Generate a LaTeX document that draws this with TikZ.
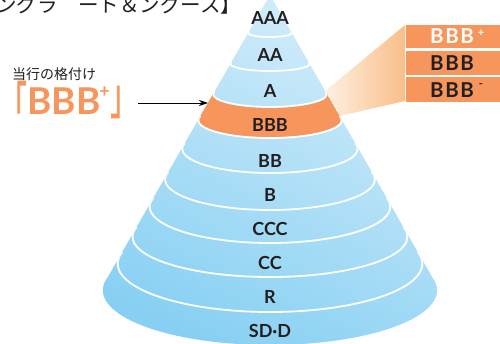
\documentclass[tikz,border=0pt]{standalone}
\usepackage{fontspec}
\usepackage{graphicx}
\setmainfont{Lato}
\newfontfamily\cjk{Noto Sans CJK JP}
\newfontfamily\cjkb{Noto Sans CJK JP}[FakeBold=3]
\newfontfamily\boxfont{Lato}[LetterSpace=8]
\usetikzlibrary{arrows.meta}
\definecolor{coneTop}{RGB}{212,237,250}
\definecolor{coneBot}{RGB}{135,208,243}
\definecolor{orng}{RGB}{246,150,92}
\definecolor{peach}{RGB}{249,190,136}
\definecolor{peachL}{RGB}{254,240,226}
\definecolor{txt}{RGB}{35,31,32}
\begin{document}
\begin{tikzpicture}[x=1pt,y=1pt,
  lbl/.style={font=\bfseries\fontsize{18}{18}\selectfont,text=txt,inner sep=0pt},
  boxlbl/.style={font=\boxfont\bfseries\fontsize{20.5}{21}\selectfont,inner sep=0pt},
  supl/.style={font=\bfseries\fontsize{11}{11}\selectfont,inner sep=0pt},
  sepline/.style={white,line width=1.8pt},
  boxst/.style={fill=orng,draw=none,minimum width=94pt,inner sep=0pt,anchor=north west}]
\useasboundingbox (0,0) rectangle (500,-344);
\clip (0,0) rectangle (500,-344);

% cropped title
\node[anchor=base west,inner sep=0pt,font=\cjk\fontsize{20.5}{21}\selectfont,text=txt] (title) at (-4,-12.5) {ングラ　ート＆ングース】};

% callout gradient
\shade[left color=peachL,right color=peach] (325.2,-91) -- (405,-25) -- (405,-101) -- (339.6,-116) -- cycle;

% boxes
\node[boxst,minimum height=23pt] (box1) at (406,-24.5) {};
\node[boxst,minimum height=24pt] (box2) at (406,-50.5) {};
\node[boxst,minimum height=24.5pt] (box3) at (406,-77) {};
\node[boxlbl,text=white] (t1) at (452,-36.5) {BBB};
\node[supl,text=white] (t1s) at (481,-33) {+};
\node[boxlbl,text=txt] (t2) at (452,-63) {BBB};
\node[boxlbl,text=txt] (t3) at (452,-90) {BBB};
\node[supl,text=txt] (t3s) at (481,-86) {-};

% cone
\pgfmathsetmacro\hB{0.575*282}
\pgfmathsetmacro\aB{\hB/cos(14)}
\pgfmathsetmacro\bB{(345-277)/(1+sin(14))}
\shade[top color=coneTop,bottom color=coneBot,shading angle=-25] (270,5) -- ({270-\hB},-277) arc[start angle=166,end angle=374,x radius=\aB pt,y radius=\bB pt] -- cycle;

\begin{scope}
\clip (270,5) -- (37.1,-400) -- (502.9,-400) -- cycle;
\pgfmathsetmacro\hT{0.575*96}\pgfmathsetmacro\aT{\hT/cos(14)}\pgfmathsetmacro\bT{16/(1+sin(14))}
\pgfmathsetmacro\hU{0.575*121}\pgfmathsetmacro\aU{\hU/cos(14)}\pgfmathsetmacro\bU{22/(1+sin(14))}
\fill[orng] ({270-\hT},-91) arc[start angle=166,end angle=374,x radius=\aT pt,y radius=\bT pt] -- ({270+\hU},-116) arc[start angle=14,end angle=-194,x radius=\aU pt,y radius=\bU pt] -- cycle;
\foreach \e/\c in {32/37,62/71,91/107,116/138,143/173,172/210,198/243,227/277,252/312}{
  \pgfmathsetmacro\myh{0.575*(\e+5)}
  \pgfmathsetmacro\mya{\myh/cos(14)}
  \pgfmathsetmacro\myb{(\c-\e)/(1+sin(14))}
  \draw[sepline] ({270-\myh},-\e) arc[start angle=166,end angle=374,x radius=\mya pt,y radius=\myb pt];
}
\end{scope}

% labels
\node[lbl] (lAAA) at (270,-18.3) {AAA};
\node[lbl] (lAA) at (270,-55) {AA};
\node[lbl] (lA) at (270,-91) {A};
\node[lbl] (lBBB) at (270,-124.5) {BBB};
\node[lbl] (lBB) at (270,-161) {BB};
\node[lbl] (lB) at (270,-194.5) {B};
\node[lbl] (lCCC) at (270,-228.5) {CCC};
\node[lbl] (lCC) at (270,-263) {CC};
\node[lbl] (lR) at (270,-296.5) {R};
\node[lbl] (lSD) at (270,-330.5) {SD·D};

% left label
\node[anchor=west,inner sep=0pt,font=\cjk\fontsize{14}{14}\selectfont,text=txt] (cur) at (12,-74) {当行の格付け};
\node[inner sep=0pt,text=orng,font=\bfseries\fontsize{37}{37}\selectfont] (big) at (64,-101.5) {BBB};
\node[inner sep=0pt,text=orng,font=\bfseries\fontsize{18}{18}\selectfont] (bigp) at (104.5,-92) {+};
\node[inner sep=0pt,text=orng,font=\cjkb\fontsize{36}{36}\selectfont] (lbr) at (14,-102) {\scalebox{0.7}[1.35]{「}};
\node[inner sep=0pt,text=orng,font=\cjkb\fontsize{36}{36}\selectfont] (rbr) at (123,-102) {\scalebox{0.7}[1.35]{」}};

% arrow
\coordinate (arrS) at (138,-103);
\coordinate (bandL) at (208,-103);
\draw[-{Stealth[length=9pt,width=6pt]},line width=0.9pt] (arrS) -- (bandL);
\end{tikzpicture}
\end{document}
